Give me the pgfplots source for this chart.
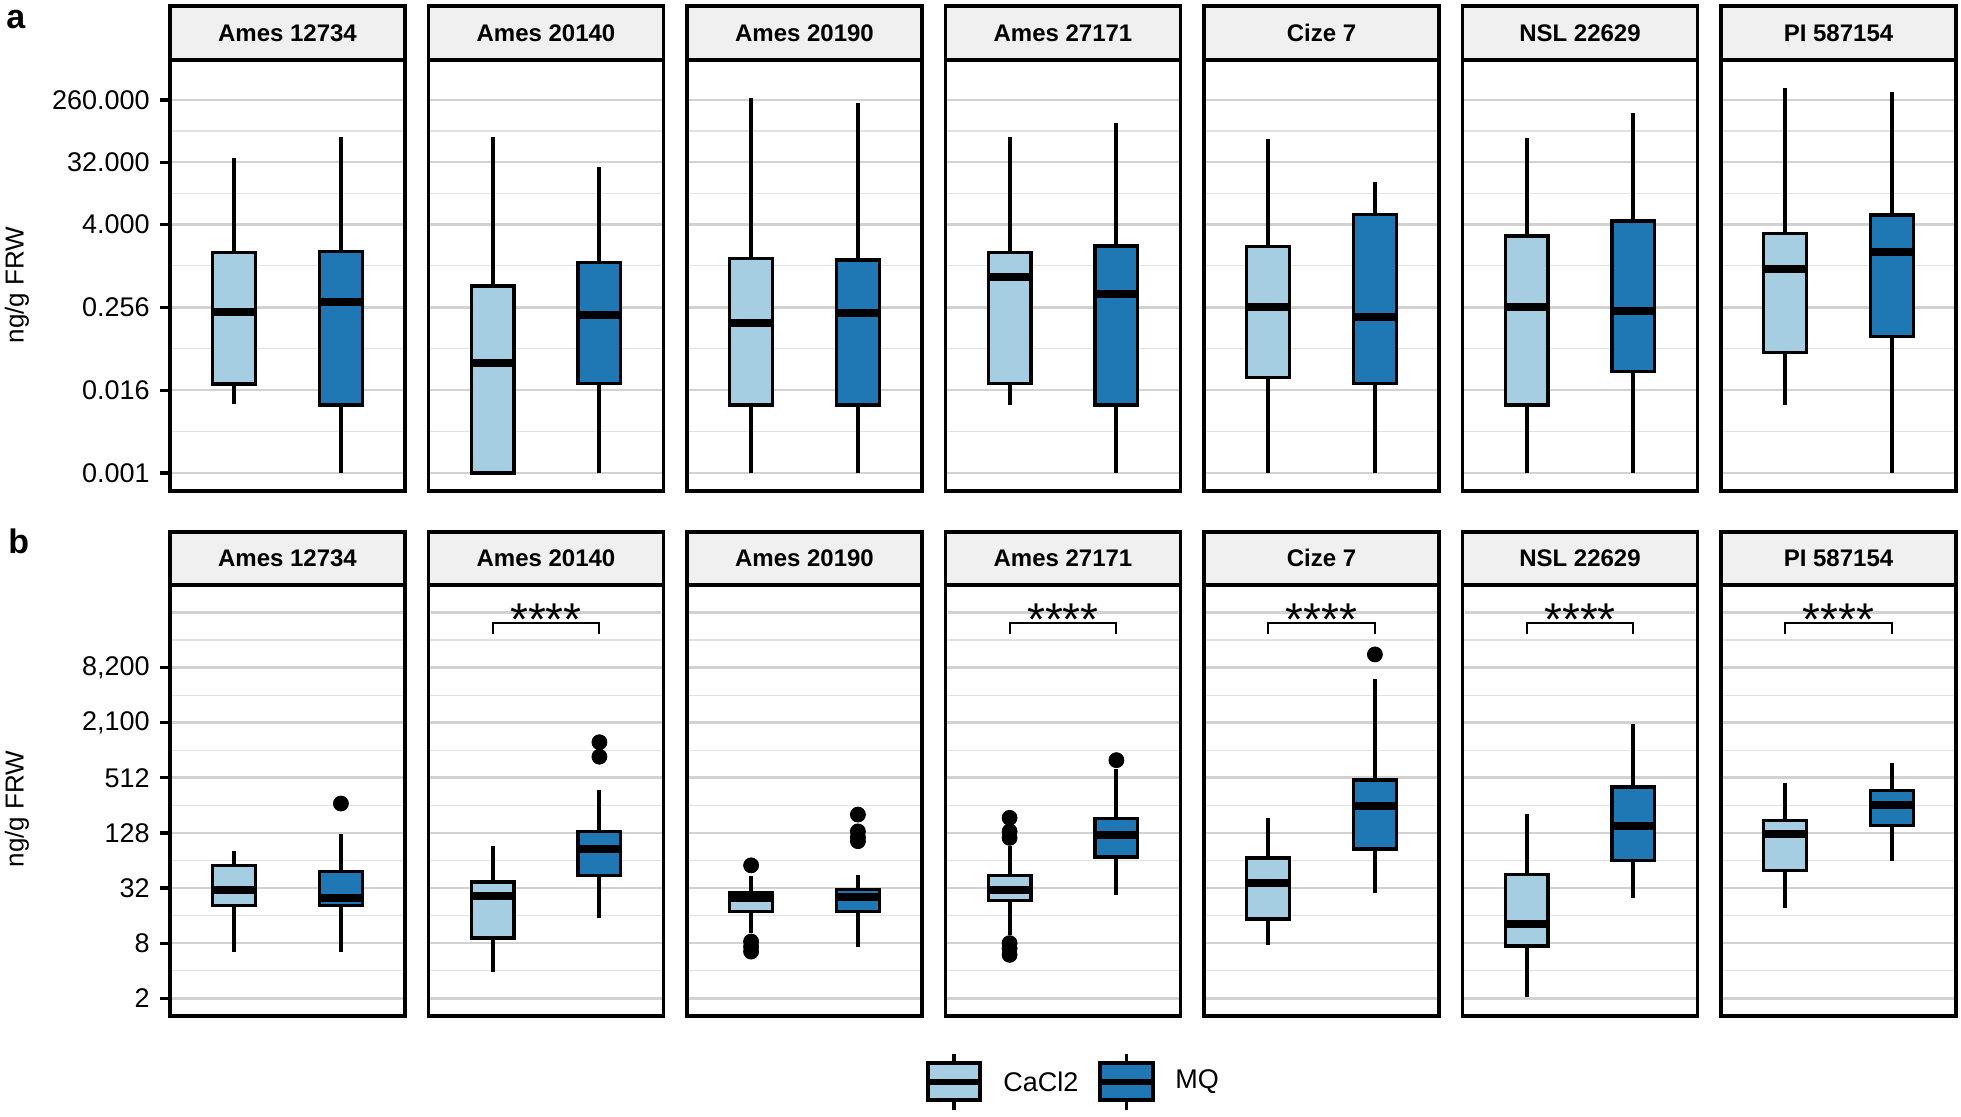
\documentclass[border=0pt]{standalone}
\usepackage{fontspec}
\setmainfont{Liberation Sans}
\usepackage{pgfplots}
\pgfplotsset{compat=1.18}

\definecolor{cacl}{HTML}{A6CEE3}
\definecolor{mq}{HTML}{1F78B4}
\definecolor{stripgray}{HTML}{F0F0F0}
\definecolor{gmaj}{HTML}{D2D2D2}
\definecolor{gmin}{HTML}{E2E2E2}

% #1 x of left edge, #2 extra options (empty for first column)
\newcommand{\axisA}[2]{%
  \begin{axis}[width=117.5pt, height=215.5pt, scale only axis,
    at={(#1,-30pt)}, anchor=north west,
    ymode=log, xmin=0.4, xmax=2.6, xtick=\empty,
    ymin=0.000548, ymax=999,
    ytick={0.001,0.016,0.256,4.096,32.768,262.144},
    yticklabels={0.001,0.016,0.256,4.000,32.000,260.000},
    minor ytick={0.004,0.064,1.024,11.585,92.682},
    axis line style={line width=1.65pt},
    ymajorgrids, yminorgrids,
    major grid style={line width=1.3pt, color=gmaj},
    minor grid style={line width=0.6pt, color=gmin},
    tick style={line width=1.6pt, color=black},
    major tick length=5pt, minor tick length=0pt,
    tick align=outside, ytick pos=left,
    tick label style={font=\fontsize{13.5}{16}\selectfont},
    yticklabel style={inner sep=0pt, xshift=-5pt},
    #2]}
\newcommand{\axisB}[2]{%
  \begin{axis}[width=117.5pt, height=215.5pt, scale only axis,
    at={(#1,-292.5pt)}, anchor=north west,
    ymode=log, xmin=0.4, xmax=2.6, xtick=\empty,
    ymin=1.28, ymax=65300,
    ytick={2,8,32,128,512,2048,8192},
    yticklabels={2,8,32,128,512,{2,100},{8,200}},
    minor ytick={4,16,64,256,1024,4096,16384},
    axis line style={line width=1.65pt},
    ymajorgrids, yminorgrids,
    major grid style={line width=1.3pt, color=gmaj},
    minor grid style={line width=0.6pt, color=gmin},
    tick style={line width=1.6pt, color=black},
    major tick length=5pt, minor tick length=0pt,
    tick align=outside, ytick pos=left,
    tick label style={font=\fontsize{13.5}{16}\selectfont},
    yticklabel style={inner sep=0pt, xshift=-5pt},
    #2]
  % unlabelled major grid line at the top
  \draw[gmaj, line width=1.3pt] (axis cs:0.42,32768) -- (axis cs:2.58,32768);}

% #1 left, #2 centre, #3 right, #4 fill, #5 lower whisker, #6 q1, #7 median, #8 q3, #9 upper whisker
\newcommand{\bx}[9]{%
  \addplot[line width=2pt, mark=none] coordinates {(#2,#5)(#2,#6)};
  \addplot[line width=2pt, mark=none] coordinates {(#2,#8)(#2,#9)};
  \addplot[fill=#4, draw=black, line width=1.7pt, mark=none]
    coordinates {(#1,#6)(#3,#6)(#3,#8)(#1,#8)} -- cycle;
  \addplot[line width=4pt, mark=none] coordinates {(#1,#7)(#3,#7)};}
\newcommand{\bxc}[5]{\bx{0.8}{1}{1.2}{cacl}{#1}{#2}{#3}{#4}{#5}}
\newcommand{\bxm}[5]{\bx{1.8}{2}{2.2}{mq}{#1}{#2}{#3}{#4}{#5}}
\newcommand{\out}[1]{%
  \addplot[only marks, mark=*, mark size=3.75pt, black] coordinates {#1};}
\newcommand{\sig}{%
  \draw[line width=1pt] (axis cs:1,18970) -- (axis cs:1,24833)
    -- (axis cs:2,24833) -- (axis cs:2,18970);
  \node[anchor=base, inner sep=0pt, font=\fontsize{23}{23}\selectfont]
    at (axis cs:1.5,18500) {****};}

\begin{document}
\begin{tikzpicture}
\useasboundingbox (0,0) rectangle (980.5pt,-558pt);

% facet strips
\foreach \i/\nm in {0/Ames 12734,1/Ames 20140,2/Ames 20190,3/Ames 27171,4/Cize 7,5/NSL 22629,6/PI 587154}{
  \draw[fill=stripgray, line width=1.65pt] ({85pt+\i*129.25pt},-3pt) rectangle ++(117.5pt,-27pt);
  \node[anchor=base, inner sep=0pt, font=\bfseries\fontsize{12}{14}\selectfont]
    at ({143.75pt+\i*129.25pt},-20.85pt) {\nm};
  \draw[fill=stripgray, line width=1.65pt] ({85pt+\i*129.25pt},-266pt) rectangle ++(117.5pt,-26.5pt);
  \node[anchor=base, inner sep=0pt, font=\bfseries\fontsize{12}{14}\selectfont]
    at ({143.75pt+\i*129.25pt},-283.3pt) {\nm};
}

% panel letters and y labels
\node[anchor=base west, inner sep=0pt, font=\bfseries\fontsize{17}{17}\selectfont] at (3pt,-14pt) {a};
\node[anchor=base west, inner sep=0pt, font=\bfseries\fontsize{17}{17}\selectfont] at (4pt,-276.5pt) {b};
\node[rotate=90, font=\fontsize{13}{15}\selectfont] at (8.5pt,-142.5pt) {ng/g FRW};
\node[rotate=90, font=\fontsize{13}{15}\selectfont] at (8.5pt,-404.5pt) {ng/g FRW};

% ---- row a ----
\axisA{85pt}{}
\bxc{0.00996}{0.0196}{0.216}{1.59}{37.4}
\bxm{0.001}{0.0097}{0.302}{1.64}{75.3}
\end{axis}
\axisA{214.25pt}{yticklabels={}, major tick length=0pt}
\bxc{0.001}{0.001}{0.0392}{0.521}{76.9}
\bxm{0.001}{0.0201}{0.197}{1.14}{28.2}
\end{axis}
\axisA{343.5pt}{yticklabels={}, major tick length=0pt}
\bxc{0.001}{0.00973}{0.150}{1.31}{277}
\bxm{0.001}{0.00973}{0.209}{1.24}{235}
\end{axis}
\axisA{472.75pt}{yticklabels={}, major tick length=0pt}
\bxc{0.00973}{0.0201}{0.711}{1.61}{76.9}
\bxm{0.001}{0.00973}{0.395}{1.99}{120.5}
\end{axis}
\axisA{602pt}{yticklabels={}, major tick length=0pt}
\bxc{0.001}{0.0243}{0.256}{1.94}{71.8}
\bxm{0.001}{0.0201}{0.186}{5.74}{17.1}
\end{axis}
\axisA{731.25pt}{yticklabels={}, major tick length=0pt}
\bxc{0.001}{0.00973}{0.256}{2.78}{72.8}
\bxm{0.001}{0.0296}{0.228}{4.58}{168}
\end{axis}
\axisA{860.5pt}{yticklabels={}, major tick length=0pt}
\bxc{0.00973}{0.0559}{0.911}{3.04}{388}
\bxm{0.001}{0.0955}{1.64}{5.6}{339}
\end{axis}

% ---- row b ----
\axisB{85pt}{}
\bxc{6.47}{20.6}{30.7}{56.6}{80.5}
\bxm{6.47}{20.5}{24.9}{48.6}{123}
\out{(2,268)}
\end{axis}
\axisB{214.25pt}{yticklabels={}, major tick length=0pt}
\bxc{3.91}{9.07}{25.9}{37.2}{92.9}
\bxm{15.0}{43.6}{85.5}{133}{374}
\out{(2,870)(2,1252)}
\sig
\end{axis}
\axisB{343.5pt}{yticklabels={}, major tick length=0pt}
\bxc{10.3}{17.7}{24.9}{28.2}{42.9}
\bxm{7.34}{17.7}{25.5}{30.7}{44.8}
\out{(1,56.6)(1,8.33)(1,7.3)(1,6.47)(2,203)(2,133)(2,115)(2,104)}
\end{axis}
\axisB{472.75pt}{yticklabels={}, major tick length=0pt}
\bxc{9.86}{23.4}{30.7}{43.6}{91.3}
\bxm{27.0}{69.9}{120}{183.5}{631}
\out{(1,187)(1,133)(1,113)(1,8)(1,7)(1,5.96)(2,798)}
\sig
\end{axis}
\axisB{602pt}{yticklabels={}, major tick length=0pt}
\bxc{7.66}{14.65}{36.3}{68.2}{187}
\bxm{28.2}{85.5}{255}{482}{6210}
\out{(2,11400)}
\sig
\end{axis}
\axisB{731.25pt}{yticklabels={}, major tick length=0pt}
\bxc{2.08}{7.47}{13.0}{44.8}{208}
\bxm{24.9}{64.2}{151}{408}{1965}
\sig
\end{axis}
\axisB{860.5pt}{yticklabels={}, major tick length=0pt}
\bxc{19.3}{49.5}{123}{174.5}{451}
\bxm{62.5}{154}{257}{374}{747}
\sig
\end{axis}

% legend
\draw[line width=1.7pt] (477pt,-527pt) -- (477pt,-555pt);
\draw[line width=1.7pt, fill=cacl] (464pt,-531.5pt) rectangle (490pt,-550pt);
\draw[line width=3pt] (464pt,-541pt) -- (490pt,-541pt);
\node[anchor=west, inner sep=0pt, font=\fontsize{13.5}{16}\selectfont] at (501.5pt,-541pt) {CaCl2};
\draw[line width=1.7pt] (563.25pt,-527pt) -- (563.25pt,-555pt);
\draw[line width=1.7pt, fill=mq] (550pt,-531.5pt) rectangle (576.5pt,-550pt);
\draw[line width=3pt] (550pt,-541pt) -- (576.5pt,-541pt);
\node[anchor=west, inner sep=0pt, font=\fontsize{13.5}{16}\selectfont] at (587.5pt,-541pt) {MQ};
\end{tikzpicture}
\end{document}
